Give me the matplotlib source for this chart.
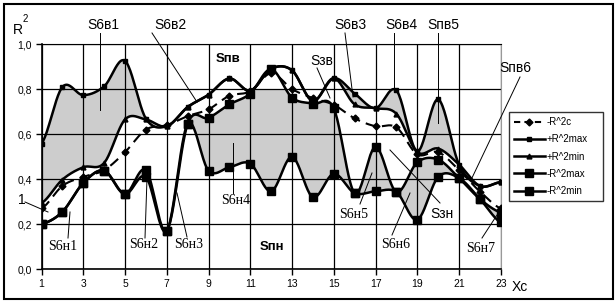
import numpy as np
import matplotlib
matplotlib.use('Agg')
import matplotlib.pyplot as plt
from matplotlib.lines import Line2D
from matplotlib.patches import Rectangle

# values
xc = list(range(1, 24))
r2c = [0.27, 0.37, 0.41, 0.44, 0.52, 0.62, 0.64, 0.68, 0.71, 0.77, 0.79, 0.87,
       0.80, 0.76, 0.73, 0.67, 0.635, 0.63, 0.51, 0.52, 0.44, 0.345, 0.27]
pos_max = [0.557, 0.809, 0.773, 0.812, 0.925, 0.669, 0.635, 0.72, 0.775, 0.847, 0.793, 0.89,
           0.883, 0.747, 0.848, 0.78, 0.715, 0.794, 0.524, 0.754, 0.465, 0.37, 0.387]
pos_min = [0.294, 0.398, 0.453, 0.472, 0.665, 0.665, 0.635, 0.72, 0.775, 0.847, 0.793, 0.89,
           0.883, 0.747, 0.848, 0.732, 0.715, 0.69, 0.52, 0.536, 0.465, 0.37, 0.387]
neg_max = [0.20, 0.255, 0.383, 0.438, 0.334, 0.44, 0.17, 0.645, 0.672, 0.732, 0.78, 0.888,
           0.762, 0.735, 0.714, 0.338, 0.543, 0.343, 0.475, 0.487, 0.405, 0.312, 0.252]
neg_min = [0.20, 0.255, 0.383, 0.438, 0.334, 0.41, 0.17, 0.645, 0.438, 0.453, 0.469, 0.346,
           0.499, 0.32, 0.424, 0.338, 0.346, 0.343, 0.22, 0.41, 0.405, 0.312, 0.208]
legend_labels = ['-R^2c', '+R^2max', '+R^2min', '-R^2max', '-R^2min']

# (text, text x, text y, line from, line to, font family, bold)
notes = [
    ('S6в1', 103, 25, (100, 33), (100, 110), 'sans', False),
    ('S6в2', 170, 25, (152, 33), (197, 102), 'sans', False),
    ('S6в3', 350, 25, (345, 33), (353, 97), 'sans', False),
    ('S6в4', 401, 25, (394, 33), (394, 92), 'sans', False),
    ('Sпв5', 443, 25, (438, 33), (438, 123), 'sans', False),
    ('Sпв6', 515, 68, (520, 77), (471, 180), 'sans', False),
    ('Sзв', 322, 61, (317, 68), (330, 98), 'sans', False),
    ('Sпв', 228, 59, None, None, 'sans', True),
    ('Sпн', 272, 247, None, None, 'sans', True),
    ('1', 22, 200, (25, 202), (48, 212), 'sans', False),
    ('S6н1', 63, 246, (68, 238), (70, 212), 'serif', False),
    ('S6н2', 144, 245, (145, 238), (147, 178), 'serif', False),
    ('S6н3', 189, 245, (187, 237), (177, 193), 'serif', False),
    ('S6н4', 236, 201, (233, 193), (233, 143), 'serif', False),
    ('S6н5', 354, 214, (360, 204), (372, 173), 'serif', False),
    ('Sзн', 442, 214, (440, 203), (390, 150), 'sans', False),
    ('S6н6', 396, 245, (392, 235), (410, 193), 'serif', False),
    ('S6н7', 481, 248, (482, 238), (497, 215), 'serif', False),
]


def smooth(x, y, n=24):
    x = np.asarray(x, float)
    y = np.asarray(y, float)
    xs, ys = [], []
    t = np.linspace(0, 1, n, endpoint=False)
    for i in range(len(x) - 1):
        y0 = y[i - 1] if i > 0 else y[i]
        y3 = y[i + 2] if i + 2 < len(y) else y[i + 1]
        c1 = y[i] + (y[i + 1] - y0) / 6
        c2 = y[i + 1] - (y3 - y[i]) / 6
        yy = (1 - t) ** 3 * y[i] + 3 * (1 - t) ** 2 * t * c1 + 3 * (1 - t) * t ** 2 * c2 + t ** 3 * y[i + 1]
        xs.append(x[i] + t * (x[i + 1] - x[i]))
        ys.append(yy)
    xs.append([x[-1]])
    ys.append([y[-1]])
    return np.concatenate(xs), np.concatenate(ys)


W, H = 616, 305
fig = plt.figure(figsize=(W / 100, H / 100), dpi=100)
ax = fig.add_axes([41.5 / W, 1 - 269.3 / H, (500.8 - 41.5) / W, (269.3 - 44) / H])

sx, pmx = smooth(xc, pos_max)
_, pmn = smooth(xc, pos_min)
_, nmx = smooth(xc, neg_max)
_, nmn = smooth(xc, neg_min)
_, rc = smooth(xc, r2c)

gray = '#cdcdcd'
ax.fill_between(sx, pmx, pmn, color=gray, lw=0, zorder=1)
ax.fill_between(sx, np.minimum(nmx, 0.8), nmn, color=gray, lw=0, zorder=1)

ax.set_xlim(1, 23)
ax.set_ylim(0, 1.0)
ax.set_xticks(range(1, 24, 2))
ax.set_yticks(np.arange(0, 1.01, 0.2))
ax.set_yticklabels([('%.1f' % v).replace('.', ',') for v in np.arange(0, 1.01, 0.2)])
ax.grid(True, color='black', lw=0.9)
ax.tick_params(direction='out', length=4, width=1, labelsize=7.5, colors='black', pad=3)
for lab in ax.get_xticklabels() + ax.get_yticklabels():
    lab.set_fontfamily('Liberation Sans')
ax.spines['right'].set_color('#999999')
ax.spines['top'].set_color('black')
for s in ['left', 'bottom']:
    ax.spines[s].set_linewidth(1.2)

lw = 1.8
ax.plot(sx, rc, color='black', lw=1.5, ls=(0, (5, 3)), zorder=3)
ax.plot(xc, r2c, ls='none', marker='D', ms=3.5, color='black', zorder=4)
ax.plot(sx, pmx, color='black', lw=lw, zorder=3)
ax.plot(xc, pos_max, ls='none', marker='s', ms=3.5, color='black', zorder=4)
ax.plot(sx, pmn, color='black', lw=lw, zorder=3)
ax.plot(xc, pos_min, ls='none', marker='^', ms=3.5, color='black', zorder=4)
ax.plot(sx, nmx, color='black', lw=lw, zorder=3)
ax.plot(xc, neg_max, ls='none', marker='s', ms=6, color='black', zorder=4)
ax.plot(sx, nmn, color='black', lw=lw, zorder=3)
ax.plot(xc, neg_min, ls='none', marker='s', ms=6, color='black', zorder=4)


def to_fig(px, py):
    return px / W, 1 - py / H


for txt, tx, ty, p0, p1, fam, bold in notes:
    family = 'Liberation Serif' if fam == 'serif' else 'Liberation Sans'
    fx, fy = to_fig(tx, ty)
    fig.text(fx, fy, txt, ha='center', va='center', fontsize=10 if not bold else 9.5,
             family=family, fontweight='bold' if bold else 'normal', zorder=6)
    if p0 is not None:
        a = to_fig(*p0)
        b = to_fig(*p1)
        fig.add_artist(Line2D([a[0], b[0]], [a[1], b[1]], color='black', lw=0.7, zorder=6))

fig.text(*to_fig(18, 30), 'R', ha='center', va='center', fontsize=10, family='Liberation Sans')
fig.text(*to_fig(25, 19), '2', ha='center', va='center', fontsize=7, family='Liberation Sans')
fig.text(*to_fig(520, 287), 'Xc', ha='center', va='center', fontsize=10, family='Liberation Sans')

handles = [
    Line2D([], [], color='black', lw=1.5, ls=(0, (3, 2)), marker='D', ms=3.5),
    Line2D([], [], color='black', lw=lw, marker='s', ms=3.5),
    Line2D([], [], color='black', lw=lw, marker='^', ms=3.5),
    Line2D([], [], color='black', lw=lw, marker='s', ms=6),
    Line2D([], [], color='black', lw=lw, marker='s', ms=6),
]
leg = fig.legend(handles, legend_labels, loc='lower left',
                 bbox_to_anchor=(509 / W, 1 - 201 / H, 94 / W, 94 / H), mode='expand',
                 prop={'family': 'Liberation Sans', 'size': 7}, frameon=True, fancybox=False,
                 handlelength=3.2, handletextpad=0.2, borderpad=0.5, labelspacing=0.75,
                 borderaxespad=0)
leg.get_frame().set_edgecolor('black')
leg.get_frame().set_linewidth(1.0)

fig.add_artist(Rectangle((4 / W, 1 - 299 / H), 609 / W, 295 / H, transform=fig.transFigure,
                         fill=False, edgecolor='black', lw=1.5))

fig.savefig('out.png', dpi=100)
